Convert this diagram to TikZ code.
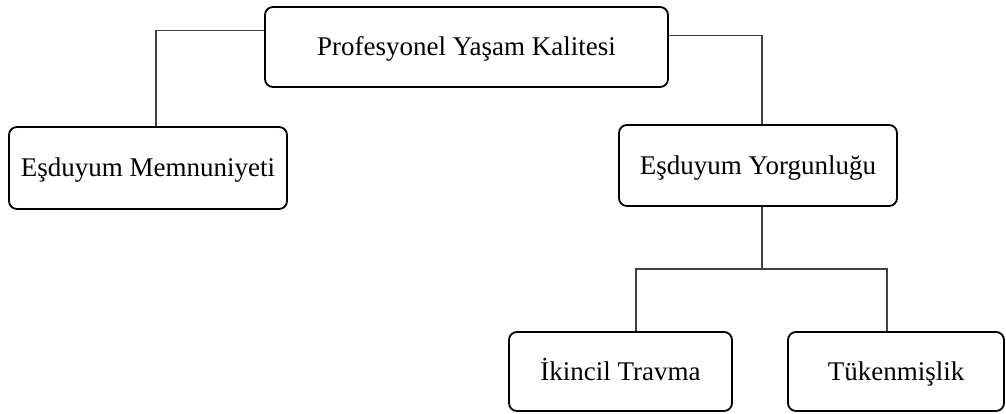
\documentclass[tikz,border=0pt]{standalone}
\usepackage{fontspec}
\setmainfont{Liberation Serif}
\begin{document}
\begin{tikzpicture}[x=1pt,y=-1pt,
  box/.style={draw=black, line width=1.8pt, rounded corners=8pt, inner sep=0pt,
    text height=17.9pt, text depth=0pt,
    font=\fontsize{27}{32}\selectfont, align=center},
  link/.style={draw=black!75, line width=1.1pt}]
\useasboundingbox (0,0) rectangle (1006,414);
\node[box, minimum width=403pt, minimum height=80pt] (top) at (466.5,47) {Profesyonel Yaşam Kalitesi};
\node[box, minimum width=278pt, minimum height=82pt] (left) at (148,168) {Eşduyum Memnuniyeti};
\node[box, minimum width=278pt, minimum height=81pt] (right) at (758,165.5) {Eşduyum Yorgunluğu};
\node[box, minimum width=223pt, minimum height=79pt] (bl) at (620.5,371.5) {İkincil Travma};
\node[box, minimum width=216pt, minimum height=79pt] (br) at (896,371.5) {Tükenmişlik};
\draw[link] ([yshift=-24pt]top.north west) -| ([xshift=8pt]left.north);
\draw[link] ([yshift=-29pt]top.north east) -| ([xshift=4pt]right.north);
\coordinate (bar) at ([xshift=4pt]right.south |- 0,269);
\draw[link] ([xshift=4pt]right.south) -- (bar);
\draw[link] ([xshift=15.5pt]bl.north) |- (bar) -| ([xshift=-9pt]br.north);
\end{tikzpicture}
\end{document}
